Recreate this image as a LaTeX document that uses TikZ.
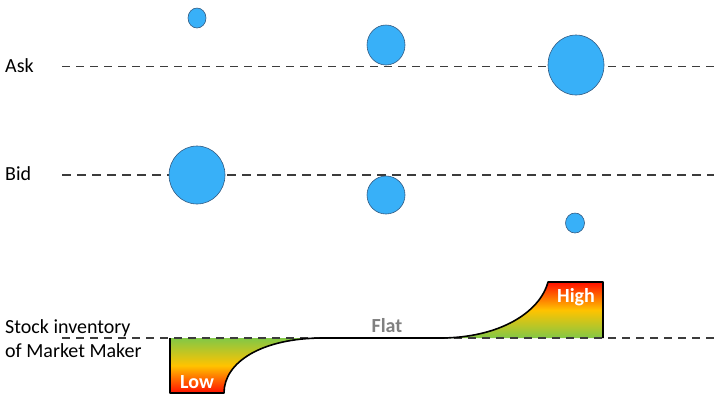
\documentclass[tikz,border=0pt]{standalone}
\usepackage{fontspec}
\setmainfont{Carlito}
\usetikzlibrary{shapes.geometric}
\definecolor{bubblefill}{RGB}{56,176,248}
\definecolor{bubbleedge}{RGB}{50,90,130}
\definecolor{linegray}{RGB}{60,60,60}
\definecolor{invgreen}{RGB}{130,200,70}
\definecolor{invyellow}{RGB}{255,195,0}
\definecolor{invred}{RGB}{255,15,0}
\definecolor{flatgray}{RGB}{128,128,128}
\begin{document}
\begin{tikzpicture}[x=1pt,y=-1pt,
  bubble/.style={ellipse,draw=bubbleedge,line width=0.6pt,fill=bubblefill,inner sep=0pt},
  lbl/.style={anchor=west,font=\fontsize{20}{24}\selectfont,inner sep=0pt,align=left},
  askline/.style={linegray,line width=1pt,dash pattern=on 8pt off 6pt},
  bidline/.style={linegray,line width=2pt,dash pattern=on 9pt off 6pt},
  invline/.style={linegray,line width=1.4pt,dash pattern=on 8pt off 6pt},
  lowfill/.style={top color=invgreen,bottom color=invred,middle color=invyellow},
  highfill/.style={top color=invred,bottom color=invgreen,middle color=invyellow},
  tag/.style={font=\fontsize{20}{24}\selectfont\bfseries,inner sep=0pt}]
\useasboundingbox (0,0) rectangle (714,408);
% text labels
\node[lbl] (ask) at (5,66) {Ask};
\node[lbl] (bid) at (5,174) {Bid};
\node[lbl] (inv) at (5,339) {Stock inventory\\of Market Maker};
% dashed levels
\coordinate (askL) at (62,66);
\coordinate (askR) at (714,66);
\coordinate (bidL) at (62,175);
\coordinate (bidR) at (714,175);
\coordinate (invL) at (62,338);
\coordinate (invR) at (714,338);
\draw[askline] (askL) -- (askR);
\draw[bidline] (bidL) -- (bidR);
% inventory shapes
\shade[lowfill]
  (170,338) -- (170,393) -- (224,393) .. controls (224,362) and (262,338) .. (323,338) -- cycle;
\shade[highfill]
  (603,338) -- (603,282) -- (548,282) .. controls (540,312) and (500,338) .. (440,338) -- cycle;
\draw[invline] (invL) -- (invR);
\draw[black,line width=1.6pt,line join=round]
  (170,338) -- (170,393) -- (224,393) .. controls (224,362) and (262,338) .. (323,338)
  -- (440,338) .. controls (500,338) and (540,312) .. (548,282) -- (603,282) -- (603,338);
\node[tag,text=white] (low) at (197,382) {Low};
\node[tag,text=white] (high) at (576,297) {High};
\node[tag,text=flatgray] (flat) at (387,326) {Flat};
% bubbles
\node[bubble,minimum width=18pt,minimum height=20pt] (a1) at (197,18) {};
\node[bubble,minimum width=38pt,minimum height=40pt] (a2) at (386,45) {};
\node[bubble,minimum width=56pt,minimum height=60pt] (a3) at (576,65) {};
\node[bubble,minimum width=56pt,minimum height=58pt] (b1) at (197,175) {};
\node[bubble,minimum width=38pt,minimum height=38pt] (b2) at (386,195) {};
\node[bubble,minimum width=19pt,minimum height=20pt] (b3) at (575,223) {};
\end{tikzpicture}
\end{document}
